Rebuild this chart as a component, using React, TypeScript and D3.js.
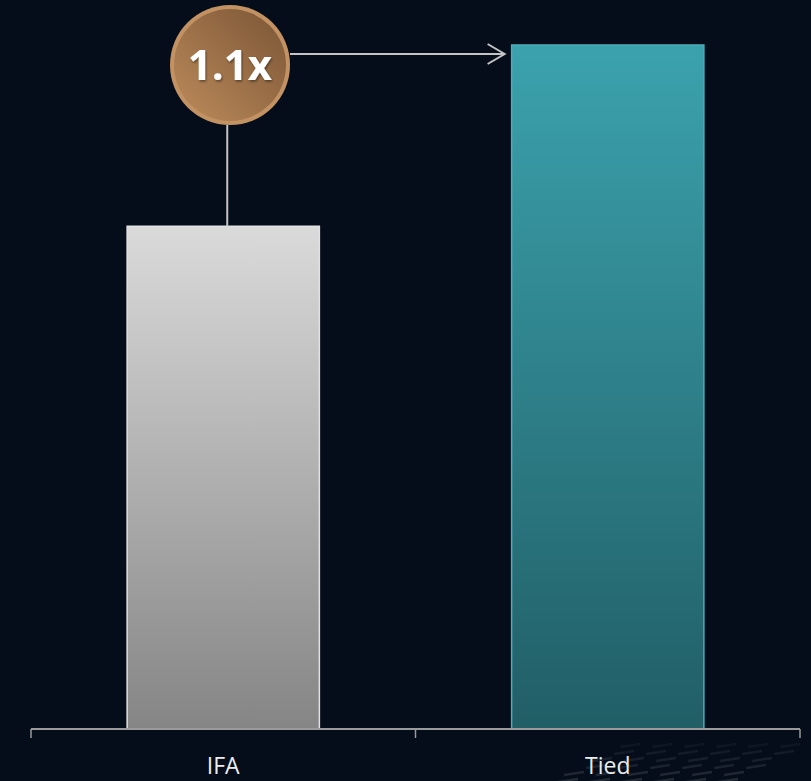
import React from "react";
import * as d3 from "d3";

const categories = ["IFA", "Tied"];
const values = [73.5, 100];
const multiplierLabel = "1.1x";

const W = 811;
const H = 781;

export default function App() {
  const x = d3.scaleBand<string>().domain(categories).range([31, 800]).paddingInner(0.5).paddingOuter(0.25);
  const y = d3.scaleLinear().domain([0, 100]).range([729, 45]);
  const bw = x.bandwidth();
  const grads = ["gIFA", "gTied"];
  const strokes = ["#e2e2e2", "#4aaeb8"];
  const ifaCx = (x("IFA") as number) + bw / 2 + 4;
  const cx = 230, cy = 65, r = 60;
  const tiedX = x("Tied") as number;
  const arrowY = 54;
  const dashes: { x1: number; y1: number; x2: number; y2: number; o: number }[] = [];
  const rows = [745, 752, 759, 766, 773, 780];
  rows.forEach((ry, i) => {
    for (let k = 0; k < 6; k++) {
      const sx = 620 + k * 32 - i * 14 + (i % 2) * 8;
      dashes.push({ x1: sx, y1: ry + 2, x2: sx + 20, y2: ry - 1, o: 0.08 + 0.03 * i });
    }
  });
  return (
    <svg width={W} height={H} style={{ position: "absolute", left: 0, top: 0, display: "block" }}>
      <defs>
        <linearGradient id="gIFA" x1="0" y1="0" x2="0" y2="1">
          <stop offset="0%" stopColor="#dadada" />
          <stop offset="100%" stopColor="#858585" />
        </linearGradient>
        <linearGradient id="gTied" x1="0" y1="0" x2="0" y2="1">
          <stop offset="0%" stopColor="#3ba2ad" />
          <stop offset="100%" stopColor="#215e66" />
        </linearGradient>
        <linearGradient id="gCoin" x1="0" y1="1" x2="1" y2="0">
          <stop offset="0%" stopColor="#bd8b5b" />
          <stop offset="100%" stopColor="#7a5535" />
        </linearGradient>
        <filter id="tshadow" x="-20%" y="-20%" width="140%" height="140%">
          <feDropShadow dx="1" dy="1.5" stdDeviation="1" floodColor="#000" floodOpacity="0.45" />
        </filter>
      </defs>
      <rect width={W} height={H} fill="#050d1a" />
      {dashes.map((d, i) => (
        <line key={i} x1={d.x1} y1={d.y1} x2={d.x2} y2={d.y2} stroke="#8a9099" strokeOpacity={d.o} strokeWidth={2.5} />
      ))}
      {categories.map((c, i) => (
        <rect
          key={c}
          x={x(c)}
          y={y(values[i])}
          width={bw}
          height={y(0) - y(values[i])}
          fill={`url(#${grads[i]})`}
          stroke={strokes[i]}
          strokeWidth={1.5}
        />
      ))}
      <line x1={31} x2={800} y1={729} y2={729} stroke="#9a9a9a" strokeWidth={2} />
      {[31, 415.5, 800].map((t) => (
        <line key={t} x1={t} x2={t} y1={729} y2={738} stroke="#9a9a9a" strokeWidth={1.5} />
      ))}
      {categories.map((c) => (
        <text
          key={c}
          x={(x(c) as number) + bw / 2}
          y={774}
          textAnchor="middle"
          fill="#ececec"
          fontSize={23}
          fontFamily="'Liberation Sans Narrow', 'Open Sans', sans-serif"
        >
          {c}
        </text>
      ))}
      <line x1={ifaCx} x2={ifaCx} y1={y(values[0])} y2={cy + r} stroke="#c4c4c4" strokeWidth={2} />
      <line x1={cx + r} x2={tiedX - 7} y1={arrowY} y2={arrowY} stroke="#c4c4c4" strokeWidth={2} />
      <polyline
        points={`${tiedX - 24},${arrowY - 10} ${tiedX - 7},${arrowY} ${tiedX - 24},${arrowY + 10}`}
        fill="none"
        stroke="#c4c4c4"
        strokeWidth={2}
      />
      <circle cx={cx} cy={cy} r={r} fill="#c39263" />
      <circle cx={cx} cy={cy} r={r - 4} fill="url(#gCoin)" />
      <text
        x={cx}
        y={cy + 15}
        textAnchor="middle"
        fill="#ffffff"
        fontSize={42}
        fontWeight="bold"
        fontFamily="'Open Sans', 'Liberation Sans', sans-serif"
        filter="url(#tshadow)"
      >
        {multiplierLabel}
      </text>
    </svg>
  );
}
